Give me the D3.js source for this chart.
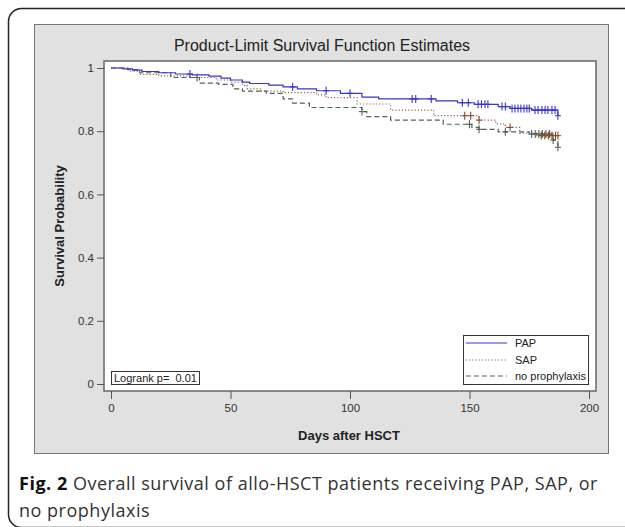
<!DOCTYPE html>
<html><head><meta charset="utf-8">
<script src="https://cdn.jsdelivr.net/npm/d3@7/dist/d3.min.js"></script>
<style>body{margin:0;background:#fff}svg{display:block}text{font-family:"Liberation Sans",Arial,sans-serif}</style>
</head><body><svg id="c" width="625" height="527"></svg>
<script>
// ---- data ----
const seriesNames = ["PAP", "SAP", "no prophylaxis"];
const papDays = [0,5,9,13,20,27,34,41,46,50,55,58,66,72,78,86,96,105,112,136,145,152,162,167,176,187];
const papSurv = [1.0,0.997,0.993,0.989,0.985,0.981,0.978,0.974,0.968,0.962,0.955,0.951,0.946,0.940,0.934,0.928,0.920,0.908,0.902,0.896,0.890,0.885,0.878,0.872,0.867,0.849];
const papCensor = [33,76,90,100,126,127.5,134,147,149.5,153.6,155,156.5,157.7,163.6,165,167.8,169,170.3,171.5,172.8,174,175,177.4,178.7,180.3,181.6,182.8,184.5,185.8,187];
const sapDays = [0,8,12,20,33,44,50,55,57,63,72,86,90,103,117,135,154,161,165,171,178,187];
const sapSurv = [1.0,0.99,0.98,0.975,0.97,0.962,0.955,0.945,0.934,0.927,0.922,0.915,0.906,0.886,0.867,0.849,0.835,0.823,0.812,0.794,0.786,0.786];
const sapCensor = [148,150.5,154,167,180,181.5,183,184.5,186,187];
const npDays = [0,7,12,25,37,45,51,55,65,72,76,83,105,107,117,139,151,154,162,175,185,187];
const npSurv = [1.0,0.995,0.985,0.97,0.952,0.948,0.934,0.927,0.92,0.902,0.889,0.875,0.862,0.846,0.835,0.822,0.812,0.806,0.798,0.791,0.772,0.749];
const npCensor = [36,105,150,154,165,176,177.5,179,180.5,182,183.5,185,187];
const xTicks = [0,50,100,150,200];
const yTicks = [0,0.2,0.4,0.6,0.8,1];
const yTickLabels = ["0","0.2","0.4","0.6","0.8","1"];

// ---- drawing ----
const svg = d3.select("#c");
svg.append("rect").attr("x",8.5).attr("y",8.5).attr("width",650).attr("height",519)
  .attr("rx",13).attr("fill","#fff").attr("stroke","#222").attr("stroke-width",1.5);
svg.append("rect").attr("x",34.5).attr("y",24.5).attr("width",574).attr("height",429)
  .attr("fill","#e1e1e1").attr("stroke","#777").attr("stroke-width",1);
const pl=104, pr=596, pt=61, pb=391;
svg.append("rect").attr("x",pl).attr("y",pt).attr("width",pr-pl).attr("height",pb-pt)
  .attr("fill","#fff").attr("stroke","#666").attr("stroke-width",1.5);

const x = d3.scaleLinear().domain([0,200]).range([111,589]);
const y = d3.scaleLinear().domain([0,1]).range([384,68]);

const xAxis = svg.append("g").attr("transform",`translate(0,${pb})`)
  .call(d3.axisBottom(x).tickValues(xTicks).tickSize(8).tickPadding(5).tickFormat(d3.format("d")));
const yAxis = svg.append("g").attr("transform",`translate(${pl},0)`)
  .call(d3.axisLeft(y).tickValues(yTicks).tickSize(7).tickPadding(3).tickFormat((d,i)=>yTickLabels[i]));
[xAxis,yAxis].forEach(a=>{
  a.select(".domain").remove();
  a.selectAll("line").attr("stroke","#555");
  a.selectAll("text").attr("fill","#333").style("font-size","11.5px").style("font-family",'"Liberation Sans",Arial,sans-serif');
});

svg.append("text").attr("x",322).attr("y",51).attr("text-anchor","middle")
  .style("font-size","16px").attr("fill","#222").text("Product-Limit Survival Function Estimates");
svg.append("text").attr("x",349).attr("y",440).attr("text-anchor","middle")
  .style("font-size","13px").style("font-weight","bold").attr("fill","#222").text("Days after HSCT");
svg.append("text").attr("transform","translate(64,226) rotate(-90)").attr("text-anchor","middle")
  .style("font-size","13px").style("font-weight","bold").attr("fill","#222").text("Survival Probability");

const series = [
  {days:papDays, surv:papSurv, cens:papCensor, color:"#3a36c8", dash:null, cc:"#3a36c8"},
  {days:sapDays, surv:sapSurv, cens:sapCensor, color:"#8a6a55", dash:"1.2,2", cc:"#8b4a2a"},
  {days:npDays, surv:npSurv, cens:npCensor, color:"#4d6458", dash:"5,3", cc:"#4d6458"}
];
const line = d3.line().x(d=>x(d[0])).y(d=>y(d[1])).curve(d3.curveStepAfter);
function survAt(s,t){let v=s.surv[0];for(let i=0;i<s.days.length;i++){if(s.days[i]<=t)v=s.surv[i];}return v;}
[2,1,0].forEach(k=>{
  const s=series[k];
  const pts=s.days.map((d,i)=>[d,s.surv[i]]);
  svg.append("path").attr("d",line(pts)).attr("fill","none").attr("stroke",s.color)
    .attr("stroke-width",1.2).attr("stroke-dasharray",s.dash);
  const g=svg.append("g");
  s.cens.forEach(t=>{
    const cx=x(t), cy=y(survAt(s,t));
    g.append("line").attr("x1",cx).attr("x2",cx).attr("y1",cy-4).attr("y2",cy+4).attr("stroke",s.cc).attr("stroke-width",1.1);
    g.append("line").attr("x1",cx-3).attr("x2",cx+3).attr("y1",cy).attr("y2",cy).attr("stroke",s.cc).attr("stroke-width",1.1);
  });
});

svg.append("rect").attr("x",463.5).attr("y",335.5).attr("width",125).attr("height",49)
  .attr("fill","#fff").attr("stroke","#333").attr("stroke-width",1);
const rowsY=[343,360,376];
series.forEach((s,i)=>{
  svg.append("line").attr("x1",466).attr("x2",507).attr("y1",rowsY[i]).attr("y2",rowsY[i])
    .attr("stroke",s.color).attr("stroke-width",1.2).attr("stroke-dasharray",s.dash);
  svg.append("text").attr("x",515).attr("y",rowsY[i]+4).style("font-size","11px").attr("fill","#222").text(seriesNames[i]);
});
svg.append("rect").attr("x",111.5).attr("y",371.5).attr("width",88).attr("height",13)
  .attr("fill","#fff").attr("stroke","#333").attr("stroke-width",1);
svg.append("text").attr("x",114).attr("y",382).style("font-size","11px").attr("fill","#222")
  .style("white-space","pre").text("Logrank p=  0.01");

// caption
const capFont='"Open Sans",sans-serif';
const cap = svg.append("text").attr("x",19).attr("y",490).style("font-family",capFont).style("font-size","18px").attr("fill","#333");
cap.append("tspan").style("font-weight","bold").attr("fill","#111").text("Fig. 2");
cap.append("tspan").text(" Overall survival of allo-HSCT patients receiving PAP, SAP, or");
const cap2 = svg.append("text").attr("x",19).attr("y",517).style("font-family",capFont).style("font-size","18px").attr("fill","#333").text("no prophylaxis");
const w = cap.node().getComputedTextLength();
const n = "Fig. 2 Overall survival of allo-HSCT patients receiving PAP, SAP, or".length;
const ls = (579 - w)/n;
cap.style("letter-spacing", ls+"px");
cap2.style("letter-spacing", ls+"px");
</script></body></html>
